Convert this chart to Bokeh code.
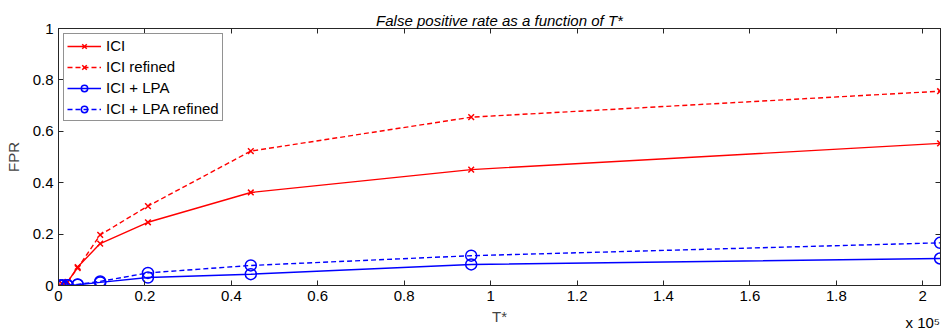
from bokeh.plotting import figure
from bokeh.models import (ColumnDataSource, LinearAxis, Range1d, Legend, LegendItem,
                          Title, FixedTicker, CustomJSTickFormatter)
from bokeh.embed import file_html
from bokeh.resources import INLINE

# Data (T* values, FPR)
t_star = [450, 960, 2070, 4440, 9650, 20700, 44500, 95500, 204000]
fpr_ici = [0.0, 0.004, 0.012, 0.072, 0.163, 0.246, 0.362, 0.451, 0.553]
fpr_ici_ref = [0.0, 0.005, 0.014, 0.068, 0.197, 0.309, 0.523, 0.655, 0.756]
fpr_lpa = [0.0, 0.0, 0.001, 0.003, 0.012, 0.031, 0.044, 0.082, 0.105]
fpr_lpa_ref = [0.0, 0.0, 0.001, 0.004, 0.016, 0.049, 0.078, 0.116, 0.166]
x_ticks = [0, 0.2, 0.4, 0.6, 0.8, 1.0, 1.2, 1.4, 1.6, 1.8, 2.0]
y_ticks = [0, 0.2, 0.4, 0.6, 0.8, 1.0]
scale = 1e5
exp_label = "x 10\u2075"

FONT = "Liberation Sans"
FS = "15px"

src = ColumnDataSource(dict(
    x=[t / scale for t in t_star],
    ici=fpr_ici, ici_ref=fpr_ici_ref, lpa=fpr_lpa, lpa_ref=fpr_lpa_ref,
))

p = figure(width=942, height=336, output_backend="svg", toolbar_location=None,
           x_range=Range1d(0, 2.041), y_range=Range1d(0, 1),
           min_border_left=58, min_border_right=2, min_border_top=28,
           min_border_bottom=51, background_fill_color="white",
           border_fill_color="white")
p.grid.visible = False
p.outline_line_color = "#262626"
p.outline_line_width = 1

p.title = Title(text="False positive rate as a function of T*", align="center",
                text_font=FONT, text_font_style="italic", text_font_size="15px",
                text_color="black", standoff=0)

blank = CustomJSTickFormatter(code="return '';")
num = CustomJSTickFormatter(code="return (Math.round(tick*10)/10).toString();")

def style_axis(ax, labels=True):
    ax.major_tick_in = 5
    ax.major_tick_out = 0
    ax.minor_tick_line_color = None
    ax.axis_line_color = "#262626"
    ax.major_tick_line_color = "#262626"
    ax.major_label_text_font = FONT
    ax.major_label_text_font_size = FS if labels else "1px"
    ax.major_label_text_color = "black"
    ax.major_label_standoff = 5 if labels else 0
    ax.axis_label_text_font = FONT
    ax.axis_label_text_font_style = "normal"
    ax.axis_label_text_font_size = FS
    ax.formatter = num if labels else blank

style_axis(p.xaxis[0])
p.xaxis[0].ticker = FixedTicker(ticks=x_ticks)
p.xaxis[0].axis_label = "T*"
p.xaxis[0].axis_label_standoff = 4

style_axis(p.yaxis[0])
p.yaxis[0].ticker = FixedTicker(ticks=y_ticks)
p.yaxis[0].axis_label = "FPR"
p.yaxis[0].axis_label_standoff = 8

top = LinearAxis(ticker=FixedTicker(ticks=x_ticks))
style_axis(top, labels=False)
p.add_layout(top, "above")
right = LinearAxis(ticker=FixedTicker(ticks=y_ticks))
style_axis(right, labels=False)
p.add_layout(right, "right")

# exponent note "x 10^5" under the last x tick
expo = LinearAxis(ticker=FixedTicker(ticks=[x_ticks[-1]]))
style_axis(expo, labels=True)
expo.formatter = CustomJSTickFormatter(args=dict(txt=exp_label), code="return txt;")
expo.axis_line_color = None
expo.major_tick_line_color = None
expo.major_tick_in = 0
expo.major_label_standoff = -14
p.add_layout(expo, "below")

RED = "#ff0000"
BLUE = "#0000ff"
lw = 1.4

r1 = p.line("x", "ici", source=src, line_color=RED, line_width=lw)
m1 = p.scatter("x", "ici", source=src, marker="x", size=8, line_color=RED, line_width=1.5)
r2 = p.line("x", "ici_ref", source=src, line_color=RED, line_width=lw, line_dash="5 3")
m2 = p.scatter("x", "ici_ref", source=src, marker="x", size=8, line_color=RED, line_width=1.5)
r3 = p.line("x", "lpa", source=src, line_color=BLUE, line_width=lw)
m3 = p.scatter("x", "lpa", source=src, marker="circle", size=11, line_color=BLUE,
               fill_color=None, line_width=1.5)
r4 = p.line("x", "lpa_ref", source=src, line_color=BLUE, line_width=lw, line_dash="5 3")
m4 = p.scatter("x", "lpa_ref", source=src, marker="circle", size=11, line_color=BLUE,
               fill_color=None, line_width=1.5)

legend = Legend(items=[
    LegendItem(label="ICI", renderers=[r1, m1]),
    LegendItem(label="ICI refined", renderers=[r2, m2]),
    LegendItem(label="ICI + LPA", renderers=[r3, m3]),
    LegendItem(label="ICI + LPA refined", renderers=[r4, m4]),
], location="top_left")
legend.label_text_font = FONT
legend.label_text_font_size = FS
legend.label_text_color = "black"
legend.label_height = 16
legend.glyph_height = 16
legend.glyph_width = 34
legend.label_standoff = 5
legend.spacing = 4
legend.padding = 3
legend.margin = 5
legend.border_line_color = "#262626"
legend.border_line_width = 1
legend.background_fill_alpha = 1
p.add_layout(legend)

open("out.html", "w").write(file_html(p, INLINE))
